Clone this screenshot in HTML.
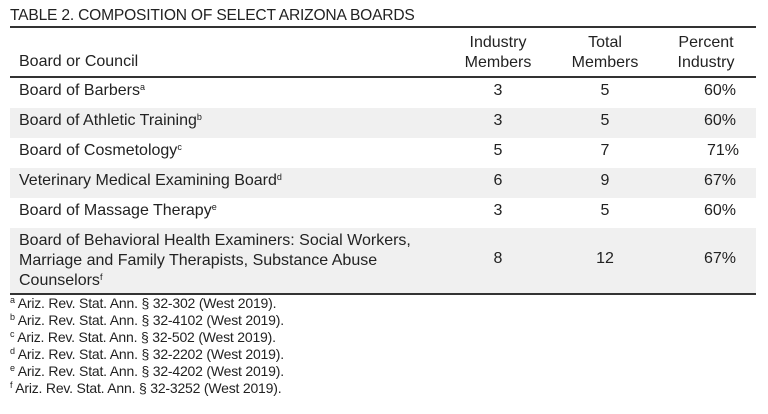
<!DOCTYPE html>
<html><head><meta charset="utf-8"><style>
body{margin:0;width:768px;height:414px;background:#fff;font-family:"Liberation Sans",sans-serif;color:#222;position:relative;overflow:hidden}
.a{position:absolute;white-space:nowrap}
.t{font-size:15.6px;left:10px;top:7px;letter-spacing:-0.2px}
.ln{position:absolute;left:10px;width:746px;background:#333}
.row{position:absolute;left:10px;width:746px}
.g{background:#f0f0f0}
.c{font-size:16px}
.fn{font-size:14px;left:10px;letter-spacing:-0.2px}
sup{font-size:9px;vertical-align:5px;line-height:0}
.ctr{text-align:center;width:80px}
</style></head><body>
<div class="a t">TABLE 2. COMPOSITION OF SELECT ARIZONA BOARDS</div>
<div class="ln" style="top:26px;height:1.5px"></div>
<div class="a c ctr" style="left:458px;top:33px;line-height:20px">Industry<br>Members</div>
<div class="a c ctr" style="left:565px;top:33px;line-height:20px">Total<br>Members</div>
<div class="a c ctr" style="left:666px;top:33px;line-height:20px">Percent<br>Industry</div>
<div class="a c" style="left:19px;top:53px">Board or Council</div>
<div class="ln" style="top:76px;height:1.5px"></div>
<div class="row g" style="top:108px;height:30px"></div>
<div class="row g" style="top:168px;height:30px"></div>
<div class="row g" style="top:228px;height:65px"></div>
<div class="a c" style="left:19px;top:82px">Board of Barbers<sup>a</sup></div>
<div class="a c" style="left:19px;top:112px">Board of Athletic Training<sup>b</sup></div>
<div class="a c" style="left:19px;top:142px">Board of Cosmetology<sup>c</sup></div>
<div class="a c" style="left:19px;top:172px">Veterinary Medical Examining Board<sup>d</sup></div>
<div class="a c" style="left:19px;top:202px">Board of Massage Therapy<sup>e</sup></div>
<div class="a c" style="left:19px;top:231px;line-height:20px">Board of Behavioral Health Examiners: Social Workers,<br>Marriage and Family Therapists, Substance Abuse<br>Counselors<sup>f</sup></div>
<div class="a c ctr" style="left:458px;top:82px">3</div><div class="a c ctr" style="left:565px;top:82px">5</div><div class="a c" style="left:704px;top:82px">60%</div>
<div class="a c ctr" style="left:458px;top:112px">3</div><div class="a c ctr" style="left:565px;top:112px">5</div><div class="a c" style="left:704px;top:112px">60%</div>
<div class="a c ctr" style="left:458px;top:142px">5</div><div class="a c ctr" style="left:565px;top:142px">7</div><div class="a c" style="left:707px;top:142px">71%</div>
<div class="a c ctr" style="left:458px;top:172px">6</div><div class="a c ctr" style="left:565px;top:172px">9</div><div class="a c" style="left:704px;top:172px">67%</div>
<div class="a c ctr" style="left:458px;top:202px">3</div><div class="a c ctr" style="left:565px;top:202px">5</div><div class="a c" style="left:704px;top:202px">60%</div>
<div class="a c ctr" style="left:458px;top:250px">8</div><div class="a c ctr" style="left:565px;top:250px">12</div><div class="a c" style="left:704px;top:250px">67%</div>
<div class="ln" style="top:293px;height:2px"></div>
<div class="a fn" style="top:295px"><sup>a</sup> Ariz. Rev. Stat. Ann. § 32-302 (West 2019).</div>
<div class="a fn" style="top:312px"><sup>b</sup> Ariz. Rev. Stat. Ann. § 32-4102 (West 2019).</div>
<div class="a fn" style="top:329px"><sup>c</sup> Ariz. Rev. Stat. Ann. § 32-502 (West 2019).</div>
<div class="a fn" style="top:346px"><sup>d</sup> Ariz. Rev. Stat. Ann. § 32-2202 (West 2019).</div>
<div class="a fn" style="top:363px"><sup>e</sup> Ariz. Rev. Stat. Ann. § 32-4202 (West 2019).</div>
<div class="a fn" style="top:380px"><sup>f</sup> Ariz. Rev. Stat. Ann. § 32-3252 (West 2019).</div>
</body></html>
